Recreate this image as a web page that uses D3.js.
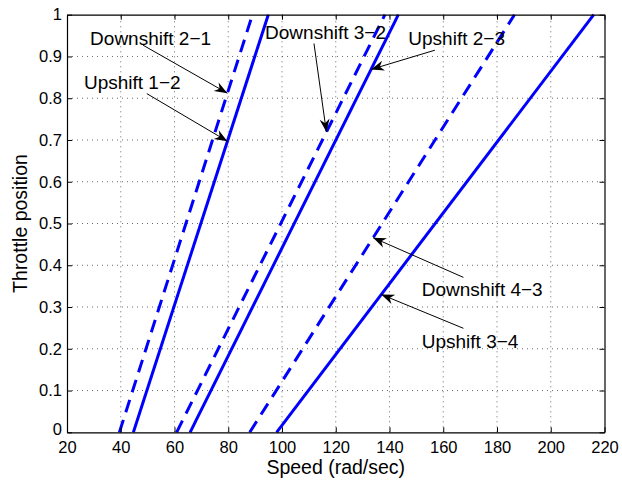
<!DOCTYPE html>
<html>
<head>
<meta charset="utf-8">
<script src="https://cdn.jsdelivr.net/npm/d3@7/dist/d3.min.js"></script>
<style>
  html, body { margin: 0; padding: 0; background: #fff; }
  svg { display: block; font-family: "Liberation Sans", Arial, Helvetica, sans-serif; }
</style>
</head>
<body>
<svg id="chart" width="622" height="487"></svg>
<script>
// Shift schedule: speed (rad/sec) at which each shift happens, at throttle 0 and 1
const throttle = [0, 1];
const upshift12 = [44.7, 94.9];
const downshift21 = [39.5, 89.0];
const upshift23 = [65.8, 143.3];
const downshift32 = [60.8, 138.3];
const upshift34 = [98.0, 216.0];
const downshift43 = [88.0, 186.5];

const xTicks = [20, 40, 60, 80, 100, 120, 140, 160, 180, 200, 220];
const yTicks = [0, 0.1, 0.2, 0.3, 0.4, 0.5, 0.6, 0.7, 0.8, 0.9, 1];

const curves = [
  { name: "Upshift 1−2", speed: upshift12, dashed: false },
  { name: "Downshift 2−1", speed: downshift21, dashed: true },
  { name: "Upshift 2−3", speed: upshift23, dashed: false },
  { name: "Downshift 3−2", speed: downshift32, dashed: true },
  { name: "Upshift 3−4", speed: upshift34, dashed: false },
  { name: "Downshift 4−3", speed: downshift43, dashed: true }
];

// Text callouts: label anchor and arrow tail in data units, arrow tip on the curve at a throttle value
const callouts = [
  { name: "Downshift 2−1", text: [28.6, 0.927], tail: [48.3, 0.927], tipThrottle: 0.812 },
  { name: "Upshift 1−2", text: [26.3, 0.823], tail: [49.7, 0.811], tipThrottle: 0.697 },
  { name: "Downshift 3−2", text: [93.7, 0.943], tail: [111.9, 0.931], tipThrottle: 0.719 },
  { name: "Upshift 2−3", text: [147.0, 0.927], tail: [156.9, 0.915], tipThrottle: 0.869 },
  { name: "Downshift 4−3", text: [152.0, 0.326], tail: [167.5, 0.371], tipThrottle: 0.466 },
  { name: "Upshift 3−4", text: [152.0, 0.201], tail: [167.5, 0.249], tipThrottle: 0.330 }
];

const svg = d3.select("#chart");
const m = { left: 67, right: 604.5, top: 14.7, bottom: 432.3 };

const x = d3.scaleLinear().domain([20, 220]).range([m.left, m.right]);
const y = d3.scaleLinear().domain([0, 1]).range([m.bottom, m.top]);

svg.append("rect").attr("width", 622).attr("height", 487).attr("fill", "#fff");
svg.append("rect")
  .attr("x", m.left).attr("y", m.top)
  .attr("width", m.right - m.left).attr("height", m.bottom - m.top)
  .attr("fill", "#fff");

// Dotted grid
const grid = svg.append("g").attr("stroke", "#444").attr("stroke-width", 0.8)
  .attr("stroke-dasharray", "1,4");
grid.selectAll(".gx").data(xTicks.slice(1, -1)).join("line")
  .attr("x1", d => x(d)).attr("x2", d => x(d))
  .attr("y1", m.bottom).attr("y2", m.top);
grid.selectAll(".gy").data(yTicks.slice(1, -1)).join("line")
  .attr("y1", d => y(d)).attr("y2", d => y(d))
  .attr("x1", m.left).attr("x2", m.right);

// Shift lines
const line = d3.line()
  .x(d => x(d[0]))
  .y(d => y(d[1]));

const plot = svg.append("g");
plot.selectAll("path.shift").data(curves).join("path")
  .attr("class", "shift")
  .attr("d", c => line(c.speed.map((s, i) => [s, throttle[i]])))
  .attr("fill", "none")
  .attr("stroke", "#0000ff")
  .attr("stroke-width", 3)
  .attr("stroke-dasharray", c => c.dashed ? "13,8" : null);

// Axes with inward ticks on all four sides
const fmt = d => String(d);
const tickLen = 5;
const axB = svg.append("g").attr("transform", `translate(0,${m.bottom})`)
  .call(d3.axisBottom(x).tickValues(xTicks).tickFormat(fmt).tickSizeInner(-tickLen).tickSizeOuter(0).tickPadding(9));
const axT = svg.append("g").attr("transform", `translate(0,${m.top})`)
  .call(d3.axisTop(x).tickValues(xTicks).tickFormat("").tickSizeInner(-tickLen).tickSizeOuter(0));
const axL = svg.append("g").attr("transform", `translate(${m.left},0)`)
  .call(d3.axisLeft(y).tickValues(yTicks).tickFormat(fmt).tickSizeInner(-tickLen).tickSizeOuter(0).tickPadding(5));
const axR = svg.append("g").attr("transform", `translate(${m.right},0)`)
  .call(d3.axisRight(y).tickValues(yTicks).tickFormat("").tickSizeInner(-tickLen).tickSizeOuter(0));

[axB, axT, axL, axR].forEach(a => {
  a.select(".domain").attr("stroke", "#000").attr("stroke-width", 1.2);
  a.selectAll(".tick line").attr("stroke", "#000").attr("stroke-width", 1);
  a.selectAll("text").attr("fill", "#000").style("font-size", "16.5px")
    .style("font-family", "'Liberation Sans', Arial, Helvetica, sans-serif");
});
// Lift the zero label a touch so it clears the first speed label
axL.selectAll(".tick").filter(d => d === 0).select("text").attr("dy", "0.12em");

// Axis titles
svg.append("text")
  .attr("x", (m.left + m.right) / 2).attr("y", 474)
  .attr("text-anchor", "middle")
  .style("font-size", "19.5px")
  .text("Speed (rad/sec)");
svg.append("text")
  .attr("transform", `translate(27,${(m.top + m.bottom) / 2}) rotate(-90)`)
  .attr("text-anchor", "middle")
  .style("font-size", "19.5px")
  .text("Throttle position");

// Callouts
const byName = new Map(curves.map(c => [c.name, c]));
const speedAt = (c, t) => c.speed[0] + (c.speed[1] - c.speed[0]) * (t - throttle[0]) / (throttle[1] - throttle[0]);

const notes = svg.append("g");
callouts.forEach(cl => {
  const c = byName.get(cl.name);
  const tx = x(speedAt(c, cl.tipThrottle)), ty = y(cl.tipThrottle);
  const sx = x(cl.tail[0]), sy = y(cl.tail[1]);
  const ang = Math.atan2(ty - sy, tx - sx) * 180 / Math.PI;
  notes.append("line")
    .attr("x1", sx).attr("y1", sy).attr("x2", tx).attr("y2", ty)
    .attr("stroke", "#000").attr("stroke-width", 1);
  notes.append("path")
    .attr("d", "M0,0 L-13,-5 L-9,0 L-13,5 Z")
    .attr("transform", `translate(${tx},${ty}) rotate(${ang})`)
    .attr("fill", "#000");
  notes.append("text")
    .attr("x", x(cl.text[0])).attr("y", y(cl.text[1]))
    .style("font-size", "19px")
    .attr("fill", "#000")
    .text(cl.name);
});
</script>
</body>
</html>
